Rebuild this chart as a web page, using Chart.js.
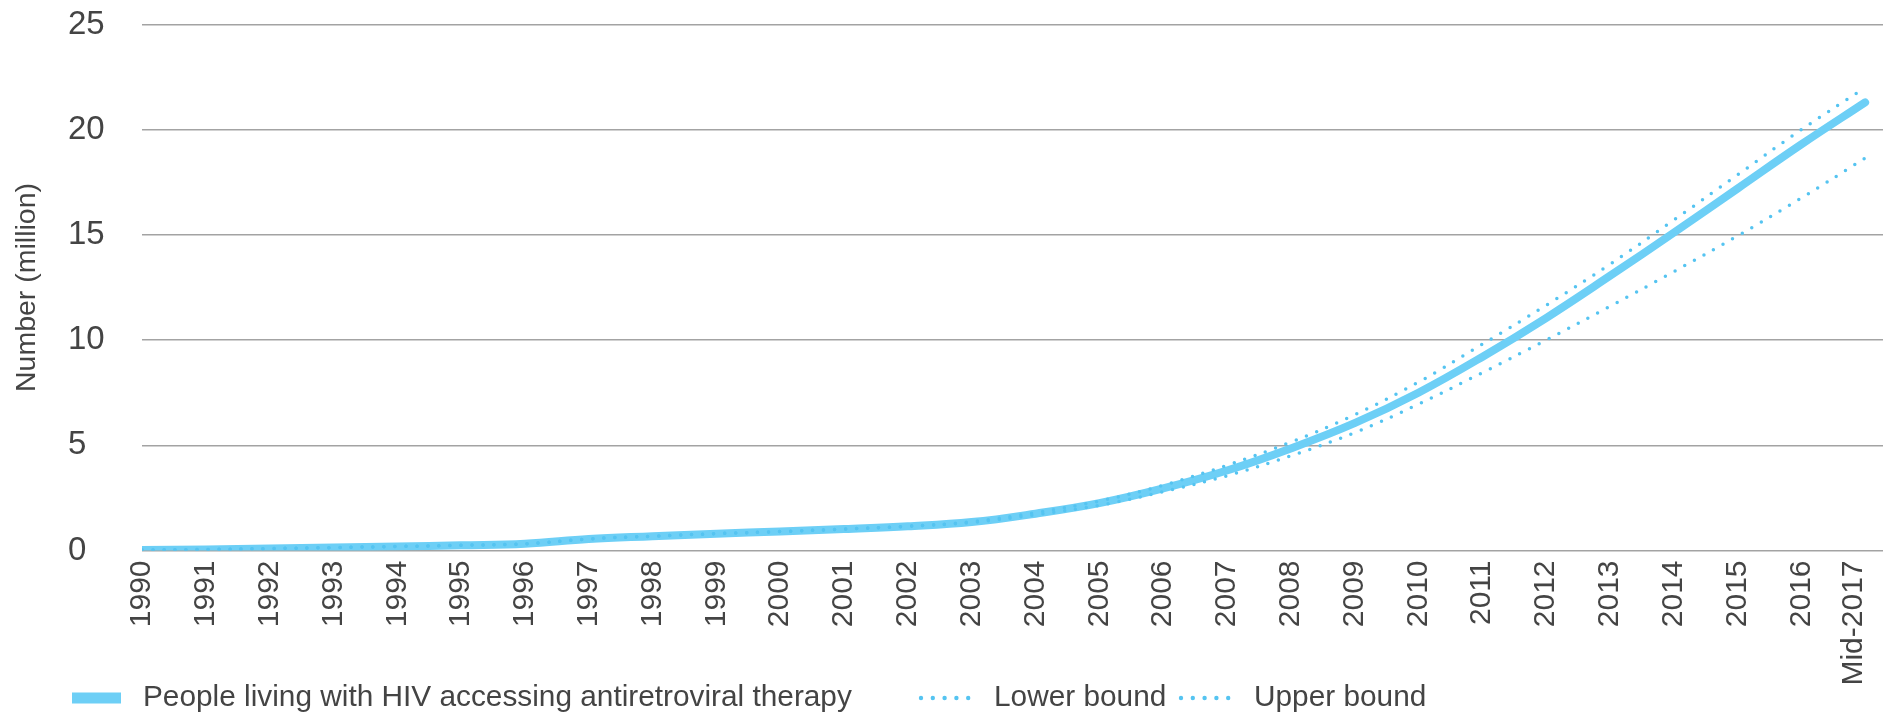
<!DOCTYPE html>
<html>
<head>
<meta charset="utf-8">
<script src="https://cdn.jsdelivr.net/npm/chart.js@4.4.1/dist/chart.umd.min.js"></script>
<style>
  html, body { margin: 0; padding: 0; background: #ffffff; }
  #wrap { width: 1890px; height: 712px; position: relative; }
</style>
</head>
<body>
<div id="wrap"><canvas id="c" width="1890" height="712"></canvas></div>
<script>
// ---- data ----
const categories = ['1990','1991','1992','1993','1994','1995','1996','1997','1998','1999',
  '2000','2001','2002','2003','2004','2005','2006','2007','2008','2009',
  '2010','2011','2012','2013','2014','2015','2016','Mid-2017'];

const artValues = [0.02, 0.05, 0.09, 0.14, 0.19, 0.25, 0.32, 0.55, 0.68, 0.80,
  0.90, 1.02, 1.15, 1.35, 1.75, 2.25, 2.95, 3.80, 4.85, 6.05,
  7.50, 9.20, 11.05, 13.05, 15.10, 17.20, 19.30, 21.30];

const lowerBound = [0.02, 0.05, 0.09, 0.14, 0.19, 0.25, 0.32, 0.55, 0.68, 0.80,
  0.90, 1.02, 1.15, 1.33, 1.70, 2.15, 2.80, 3.55, 4.50, 5.60,
  6.95, 8.45, 10.00, 11.60, 13.25, 14.95, 16.75, 18.65];

const upperBound = [0.02, 0.05, 0.09, 0.14, 0.19, 0.25, 0.32, 0.55, 0.68, 0.80,
  0.90, 1.02, 1.15, 1.37, 1.80, 2.35, 3.10, 4.05, 5.15, 6.45,
  8.00, 9.80, 11.65, 13.60, 15.70, 17.85, 20.00, 22.00];

const yTickValues = [0, 5, 10, 15, 20, 25];
const yAxisTitle = 'Number (million)';
const legendLabels = ['People living with HIV accessing antiretroviral therapy', 'Lower bound', 'Upper bound'];

// ---- styling ----
const FONT = '"Liberation Sans", Arial, Helvetica, sans-serif';
const mainColor = '#6dcff6';
const dotColor = '#55c4f1';
const textColor = '#444444';

const toPoints = arr => arr.map((v, i) => ({ x: i, y: v }));

const legendPlugin = {
  id: 'customLegend',
  afterDraw(chart) {
    const ctx = chart.ctx;
    ctx.save();
    const y = 698;
    ctx.font = '29.8px ' + FONT;
    ctx.textBaseline = 'middle';
    ctx.textAlign = 'left';
    ctx.fillStyle = mainColor;
    ctx.fillRect(72, y - 5.5, 49, 11);
    ctx.fillStyle = textColor;
    ctx.fillText(legendLabels[0], 143, y);
    const dots = (x0) => {
      ctx.fillStyle = dotColor;
      for (let k = 0; k < 5; k++) {
        ctx.beginPath();
        ctx.arc(x0 + k * 11.8, y, 2.2, 0, Math.PI * 2);
        ctx.fill();
      }
    };
    dots(921);
    ctx.fillStyle = textColor;
    ctx.fillText(legendLabels[1], 994, y);
    dots(1181);
    ctx.fillStyle = textColor;
    ctx.fillText(legendLabels[2], 1254, y);
    ctx.restore();
  }
};

new Chart(document.getElementById('c'), {
  type: 'line',
  data: {
    datasets: [
      {
        label: legendLabels[0],
        data: toPoints(artValues),
        borderColor: mainColor,
        borderWidth: 8,
        borderCapStyle: 'round',
        borderJoinStyle: 'round',
        pointRadius: 0,
        tension: 0.4,
        fill: false,
        order: 2
      },
      {
        label: legendLabels[1],
        data: toPoints(lowerBound),
        borderColor: dotColor,
        borderWidth: 3.5,
        borderDash: [0, 11],
        borderCapStyle: 'round',
        pointRadius: 0,
        tension: 0.4,
        fill: false,
        order: 1
      },
      {
        label: legendLabels[2],
        data: toPoints(upperBound),
        borderColor: dotColor,
        borderWidth: 3.5,
        borderDash: [0, 11],
        borderCapStyle: 'round',
        pointRadius: 0,
        tension: 0.4,
        fill: false,
        order: 1
      }
    ]
  },
  options: {
    responsive: false,
    devicePixelRatio: 1,
    animation: false,
    layout: { padding: { top: 24.5, right: 7, bottom: 0, left: 68 } },
    plugins: {
      legend: { display: false },
      tooltip: { enabled: false }
    },
    scales: {
      x: {
        type: 'linear',
        min: 0,
        max: 27.28,
        grid: { display: false, drawTicks: true, tickLength: 10 },
        border: { display: false },
        afterBuildTicks(scale) {
          scale.ticks = categories.map((c, i) => ({ value: i === categories.length - 1 ? i - 0.18 : i }));
        },
        afterFit(scale) { scale.height = 161.5; },
        ticks: {
          autoSkip: false,
          minRotation: 90,
          maxRotation: 90,
          padding: 0,
          color: textColor,
          font: { family: FONT, size: 30 },
          callback: (value, index) => categories[index]
        }
      },
      y: {
        type: 'linear',
        min: 0,
        max: 25,
        afterBuildTicks(scale) {
          scale.ticks = yTickValues.map(v => ({ value: v }));
        },
        afterFit(scale) { scale.width = 142 - 68; },
        grid: { color: '#a3a3a3', lineWidth: 1.6, drawTicks: false },
        border: { display: false },
        ticks: {
          crossAlign: 'far',
          padding: 0,
          color: textColor,
          font: { family: FONT, size: 33 }
        },
        title: {
          display: true,
          text: yAxisTitle,
          color: textColor,
          font: { family: FONT, size: 28.5, lineHeight: 1.2 },
          padding: { top: -58.1, bottom: 0 }
        }
      }
    }
  },
  plugins: [legendPlugin]
});
</script>
</body>
</html>
